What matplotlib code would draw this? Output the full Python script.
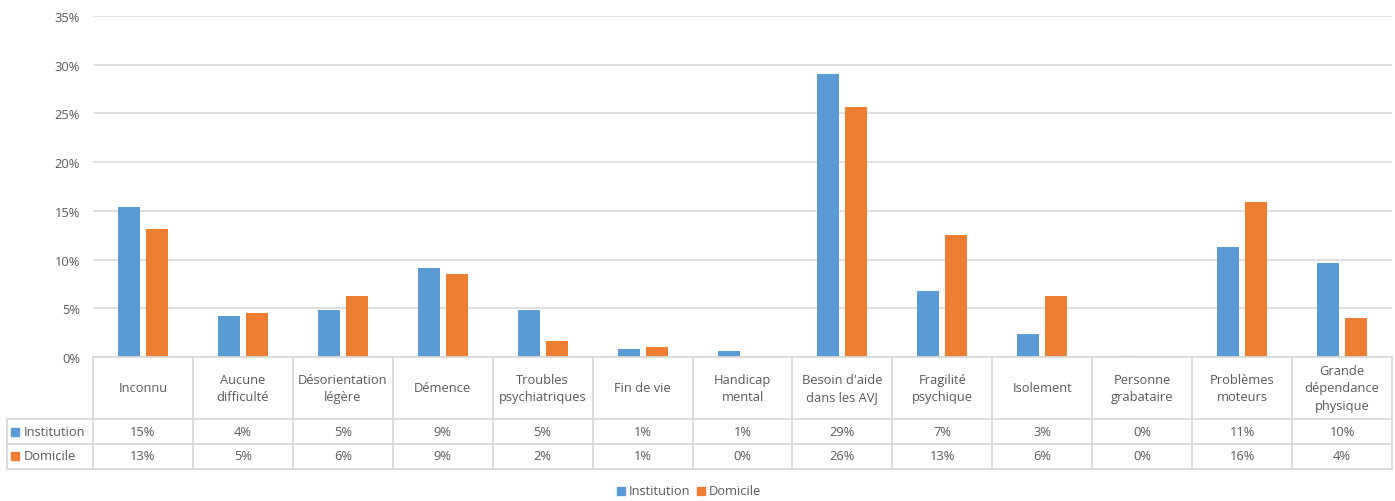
import matplotlib
matplotlib.use("Agg")
import matplotlib.pyplot as plt
import matplotlib.transforms as mtransforms
from matplotlib.patches import Rectangle
import numpy as np

categories = ["Inconnu", "Aucune\ndifficulté", "Désorientation\nlégère", "Démence",
              "Troubles\npsychiatriques", "Fin de vie", "Handicap\nmental",
              "Besoin d'aide\ndans les AVJ", "Fragilité\npsychique", "Isolement",
              "Personne\ngrabataire", "Problèmes\nmoteurs", "Grande\ndépendance\nphysique"]
institution = [15.4, 4.2, 4.8, 9.1, 4.8, 0.8, 0.6, 29.0, 6.8, 2.4, 0.15, 11.3, 9.6]
domicile = [13.1, 4.5, 6.3, 8.5, 1.6, 1.0, 0.0, 25.7, 12.5, 6.3, 0.0, 15.9, 4.0]
institution_labels = ["15%", "4%", "5%", "9%", "5%", "1%", "1%", "29%", "7%", "3%", "0%", "11%", "10%"]
domicile_labels = ["13%", "5%", "6%", "9%", "2%", "1%", "0%", "26%", "13%", "6%", "0%", "16%", "4%"]
series_names = ["Institution", "Domicile"]
yticks = [0, 5, 10, 15, 20, 25, 30, 35]

BLUE = "#5B9BD5"
ORANGE = "#ED7D31"
GRID = "#D9D9D9"
TXT = "#595959"
FONT = "Open Sans"
FS = 9.3

W, H = 1395, 502
fig = plt.figure(figsize=(W / 100, H / 100), dpi=100)
ax_left, ax_right, ax_top, ax_bot = 93, 1392, 17, 358
ax = fig.add_axes([ax_left / W, (H - ax_bot) / H, (ax_right - ax_left) / W, (ax_bot - ax_top) / H])

x = np.arange(len(categories))
bw = 0.22
off = 0.14
ax.bar(x - off, institution, bw, color=BLUE, zorder=3)
ax.bar(x + off, domicile, bw, color=ORANGE, zorder=3)

ax.set_xlim(-0.5, len(categories) - 0.5)
ax.set_ylim(0, 35)
ax.set_yticks(yticks)
ax.set_yticklabels([f"{t}%" for t in yticks], fontsize=FS, color=TXT, family=FONT)
ax.tick_params(axis="y", length=0, pad=9.4)
ax.set_xticks([])
ax.grid(axis="y", color=GRID, linewidth=1.2, zorder=0)
for s in ax.spines.values():
    s.set_visible(False)

# blended transform: x in data, y in figure pixels from top
ypix = mtransforms.Affine2D().scale(1, -1).translate(0, H).scale(1, 1 / H)
trans_xy = mtransforms.blended_transform_factory(ax.transData, ypix + fig.transFigure)
fpix = mtransforms.Affine2D().scale(1, -1).translate(0, H).scale(1 / W, 1 / H) + fig.transFigure

row_y = [358, 420, 445, 470]
lc = dict(color=GRID, linewidth=1.3, clip_on=False)
xmin, xmax = -0.5, len(categories) - 0.5
# horizontal lines
fig.add_artist(plt.Line2D([ax_left, ax_right], [358, 358], transform=fpix, **lc))
for yy in row_y[1:]:
    fig.add_artist(plt.Line2D([7, ax_right], [yy, yy], transform=fpix, **lc))
# vertical lines
for b in np.arange(xmin, xmax + 0.01, 1.0):
    fig.add_artist(plt.Line2D([b, b], [358, 470], transform=trans_xy, **lc))
fig.add_artist(plt.Line2D([7, 7], [420, 470], transform=fpix, **lc))

tk = dict(fontsize=FS, color=TXT, family=FONT, ha="center", va="center", linespacing=1.45)
for i, c in enumerate(categories):
    fig.text(x[i], 389, c, transform=trans_xy, **tk)
    fig.text(x[i], 433, institution_labels[i], transform=trans_xy, **tk)
    fig.text(x[i], 457, domicile_labels[i], transform=trans_xy, **tk)

for yy, name, col in [(433, series_names[0], BLUE), (457, series_names[1], ORANGE)]:
    fig.add_artist(Rectangle((11, yy - 4), 8, 8, transform=fpix, color=col))
    fig.text(24, yy, name, transform=fpix, fontsize=FS, color=TXT, family=FONT, ha="left", va="center")

# legend
for lx, name, col in [(617, series_names[0], BLUE), (697, series_names[1], ORANGE)]:
    fig.add_artist(Rectangle((lx, 488), 8, 8, transform=fpix, color=col))
    fig.text(lx + 12, 492, name, transform=fpix, fontsize=FS, color=TXT, family=FONT, ha="left", va="center")

fig.savefig("out.png", dpi=100)
